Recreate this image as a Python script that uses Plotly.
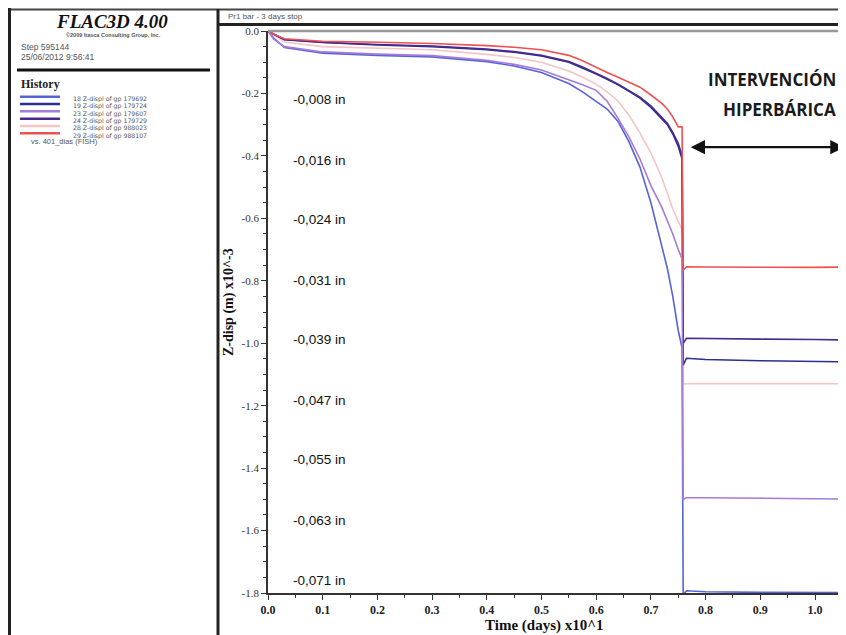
import plotly.graph_objects as go

# ---------------- data ----------------
series_names = [
    "18 Z-displ of gp 179692",
    "19 Z-displ of gp 179724",
    "23 Z-displ of gp 179607",
    "24 Z-displ of gp 179729",
    "28 Z-displ of gp 988023",
    "29 Z-displ of gp 988107",
]
series_colors = ["#5563d6", "#2b2f8f", "#a57ad8", "#4b2a8f", "#f5c4c4", "#ef5050"]

time = [0.0, 0.01, 0.03, 0.1, 0.2, 0.3, 0.4, 0.45, 0.5, 0.55, 0.575, 0.6, 0.62, 0.64,
        0.66, 0.68, 0.70, 0.72, 0.73, 0.74, 0.75, 0.757, 0.759, 0.765, 0.8, 0.9, 1.0, 1.06]

zdisp_18 = [0, -0.022, -0.053, -0.071, -0.078, -0.083, -0.098, -0.112, -0.133, -0.168,
            -0.195, -0.225, -0.25, -0.29, -0.355, -0.436, -0.55, -0.69, -0.76, -0.85,
            -0.96, -1.015, -1.806, -1.793, -1.796, -1.798, -1.799, -1.799]
zdisp_19 = [0, -0.01, -0.028, -0.037, -0.045, -0.05, -0.06, -0.068, -0.08, -0.1,
            -0.118, -0.138, -0.155, -0.172, -0.193, -0.215, -0.245, -0.28, -0.30, -0.33,
            -0.37, -0.41, -1.07, -1.048, -1.052, -1.056, -1.058, -1.06]
zdisp_23 = [0, -0.025, -0.05, -0.067, -0.074, -0.079, -0.094, -0.107, -0.125, -0.155,
            -0.172, -0.19, -0.225, -0.28, -0.34, -0.41, -0.495, -0.565, -0.605, -0.65,
            -0.70, -0.73, -1.50, -1.495, -1.495, -1.497, -1.498, -1.499]
zdisp_24 = [0, -0.01, -0.027, -0.036, -0.043, -0.048, -0.058, -0.066, -0.078, -0.098,
            -0.115, -0.135, -0.152, -0.17, -0.19, -0.212, -0.24, -0.275, -0.295, -0.325,
            -0.36, -0.40, -1.0, -0.984, -0.985, -0.987, -0.988, -0.99]
zdisp_28 = [0, -0.012, -0.035, -0.05, -0.055, -0.06, -0.075, -0.085, -0.1, -0.128,
            -0.148, -0.17, -0.195, -0.225, -0.27, -0.327, -0.39, -0.47, -0.52, -0.57,
            -0.61, -0.635, -1.131, -1.13, -1.13, -1.13, -1.13, -1.13]
zdisp_29 = [0, -0.01, -0.025, -0.033, -0.036, -0.04, -0.047, -0.052, -0.06, -0.078,
            -0.095, -0.117, -0.133, -0.148, -0.163, -0.18, -0.205, -0.232, -0.25, -0.275,
            -0.307, -0.307, -0.766, -0.755, -0.756, -0.757, -0.757, -0.756]
series_values = [zdisp_18, zdisp_19, zdisp_23, zdisp_24, zdisp_28, zdisp_29]
draw_order = [0, 4, 1, 3, 2, 5]

x_ticks = [0.0, 0.1, 0.2, 0.3, 0.4, 0.5, 0.6, 0.7, 0.8, 0.9, 1.0]
x_tick_text = ["0.0", "0.1", "0.2", "0.3", "0.4", "0.5", "0.6", "0.7", "0.8", "0.9", "1.0"]
y_ticks = [0.0, -0.2, -0.4, -0.6, -0.8, -1.0, -1.2, -1.4, -1.6, -1.8]
y_tick_text = ["0.0", "-0.2", "-0.4", "-0.6", "-0.8", "-1.0", "-1.2", "-1.4", "-1.6", "-1.8"]
inch_labels = ["-0,008 in", "-0,016 in", "-0,024 in", "-0,031 in", "-0,039 in",
               "-0,047 in", "-0,055 in", "-0,063 in", "-0,071 in"]

# ---------------- layout helpers ----------------
# The page body has an 8px margin, so the figure is sized to fit the window
# and all placements below are given in window pixels, then offset.
VW, VH = 846, 635
OFF = 8
W, H = VW - OFF, VH - OFF
def px(x):
    return (x - OFF) / W
def py(y):
    return 1 - (y - OFF) / H

SERIF = "Liberation Serif"
SANS = "Liberation Sans"

fig = go.Figure()
for i in draw_order:
    fig.add_trace(go.Scatter(
        x=time, y=series_values[i], mode="lines", name=series_names[i],
        line=dict(color=series_colors[i], width=1.6), showlegend=False,
        hoverinfo="skip"))

shapes = []
def hline(y, x0, x1, color, width):
    shapes.append(dict(type="line", xref="paper", yref="paper", x0=px(x0), x1=px(x1),
                       y0=py(y), y1=py(y), line=dict(color=color, width=width)))
def vline(x, y0, y1, color, width):
    shapes.append(dict(type="line", xref="paper", yref="paper", x0=px(x), x1=px(x),
                       y0=py(y0), y1=py(y1), line=dict(color=color, width=width)))

hline(9.5, 8, 846, "#444", 2)
vline(9.5, 8, 635, "#222", 3)
vline(218, 9, 635, "#222", 3)
hline(24.5, 218, 846, "#222", 3)
hline(31, 268, 846, "#999", 2.5)
hline(70, 17, 210, "#111", 3)

annotations = []
def text(x, y, s, size, color="#444", family=SANS, xanchor="left", weight="normal",
         style="normal", yanchor="middle"):
    annotations.append(dict(xref="paper", yref="paper", x=px(x), y=py(y), text=s,
                            showarrow=False, xanchor=xanchor, yanchor=yanchor,
                            font=dict(size=size, color=color, family=family,
                                      weight=weight, style=style)))

# left panel
text(112, 21, "FLAC3D 4.00", 19, "#111", SERIF, "center", "bold", "italic")
text(114, 35, "©2009 Itasca Consulting Group, Inc.", 5.5, "#555", SANS, "center", "bold")
text(19, 47, "Step 595144", 8.5, "#555")
text(19, 57, "25/06/2012 9:56:41", 8.5, "#555")
text(19, 84, "History", 12, "#222", SERIF, "left", "bold")
row_gap = 7.33
for k in range(len(series_names)):
    hline(96.7 + row_gap * k, 20, 60, series_colors[k], 2.5)
legend_block = "<br>".join(
    "<span style='font-size:6.2px'>%s</span>" % name for name in series_names)
annotations.append(dict(xref="paper", yref="paper", x=px(71), y=py(96.7), text=legend_block,
                        showarrow=False, xanchor="left", yanchor="top", align="left",
                        yshift=4.2,
                        font=dict(size=row_gap / 1.3, color="#555", family="DejaVu Sans")))
text(29, 141.7, "vs. 401_dias (FISH)", 7.5, "#555")

# right panel title strip
text(226, 16.5, "Pr1 bar - 3 days stop", 8, "#555")

# axis titles
annotations.append(dict(xref="paper", yref="paper", x=px(229), y=py(302),
                        text="Z-disp (m) x10^-3", showarrow=False, textangle=-90,
                        xanchor="center", yanchor="middle",
                        font=dict(size=14, color="#111", family=SERIF, weight="bold")))
text(544, 625, "Time (days) x10^1", 15, "#111", SERIF, "center", "bold")

# inch-equivalent labels beside ticks
for k, lab in enumerate(inch_labels):
    tick_y = y_ticks[k + 1]
    tick_px = 31 + (-tick_y) * (562 / 1.8)
    label_px = 100 + 60 * k
    annotations.append(dict(xref="x", yref="y", x=0.042, y=tick_y, text=lab,
                            showarrow=False, xanchor="left", yanchor="middle",
                            yshift=-(label_px - tick_px),
                            font=dict(size=13.5, color="#111", family=SANS)))

# hyperbaric intervention label and arrow
annotations.append(dict(xref="paper", yref="paper", x=px(838), y=py(79),
                        text="INTERVENCIÓN", showarrow=False, xanchor="right",
                        yanchor="middle",
                        font=dict(size=17, color="#1a1a1a", family="Open Sans", weight="bold")))
annotations.append(dict(xref="paper", yref="paper", x=px(838), y=py(110),
                        text="HIPERBÁRICA", showarrow=False, xanchor="right",
                        yanchor="middle",
                        font=dict(size=17, color="#1a1a1a", family="Open Sans", weight="bold")))
annotations.append(dict(xref="x", yref="y", axref="x", ayref="y",
                        x=1.054, y=-0.372, ax=0.770, ay=-0.372, text="",
                        showarrow=True, arrowhead=2, startarrowhead=2,
                        arrowside="end+start", arrowsize=1.3, startarrowsize=1.3,
                        arrowwidth=2.2, arrowcolor="#111"))

fig.update_layout(
    template="none",
    width=W, height=H, autosize=False,
    margin=dict(l=0, r=0, t=0, b=0, pad=0, autoexpand=False),
    paper_bgcolor="white", plot_bgcolor="white",
    showlegend=False,
    shapes=shapes, annotations=annotations,
    xaxis=dict(domain=[px(268), 1.0], range=[0, (846 - 268) / 547], automargin=False,
               tickvals=x_ticks, ticktext=x_tick_text,
               ticks="outside", ticklen=5, tickcolor="#333", tickwidth=1.2,
               minor=dict(dtick=0.05, ticks="outside", ticklen=3, tickcolor="#333"),
               showline=True, linecolor="#333", linewidth=1.8,
               showgrid=False, zeroline=False,
               tickfont=dict(family=SERIF, size=12, color="#222", weight="bold")),
    yaxis=dict(domain=[py(593), py(31)], range=[-1.8, 0.0], automargin=False,
               tickvals=y_ticks, ticktext=y_tick_text,
               ticks="outside", ticklen=5, tickcolor="#333", tickwidth=1.2,
               minor=dict(dtick=0.05, ticks="outside", ticklen=3, tickcolor="#333"),
               showline=True, linecolor="#333", linewidth=1.8,
               showgrid=False, zeroline=False,
               tickfont=dict(family=SERIF, size=11, color="#333")),
)

fig.write_html("out.html")
